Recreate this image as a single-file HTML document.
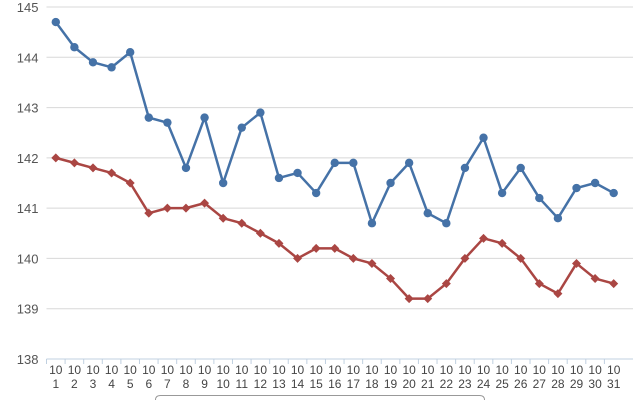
<!DOCTYPE html>
<html><head><meta charset="utf-8"><style>
body{margin:0;background:#fff;width:640px;height:400px;overflow:hidden}
svg{display:block;font-family:"Liberation Sans",sans-serif}
</style></head><body>
<svg id="chart" width="640" height="400"></svg>
<script>
const categories=["1","2","3","4","5","6","7","8","9","10","11","12","13","14","15","16","17","18","19","20","21","22","23","24","25","26","27","28","29","30","31"];
const seriesBlue=[144.7,144.2,143.9,143.8,144.1,142.8,142.7,141.8,142.8,141.5,142.6,142.9,141.6,141.7,141.3,141.9,141.9,140.7,141.5,141.9,140.9,140.7,141.8,142.4,141.3,141.8,141.2,140.8,141.4,141.5,141.3];
const seriesRed=[142.0,141.9,141.8,141.7,141.5,140.9,141.0,141.0,141.1,140.8,140.7,140.5,140.3,140.0,140.2,140.2,140.0,139.9,139.6,139.2,139.2,139.5,140.0,140.4,140.3,140.0,139.5,139.3,139.9,139.6,139.5];
const yTicks=[138,139,140,141,142,143,144,145];
const NS="http://www.w3.org/2000/svg";
const svg=document.getElementById('chart');
const L=46.5,R=623,T=7,B=359,yMin=138,yMax=145;
const bw=(R-L)/categories.length;
const xs=i=>L+bw*(i+0.5);
const ys=v=>B-(v-yMin)/(yMax-yMin)*(B-T);
function mk(tag,attrs,parent){const e=document.createElementNS(NS,tag);for(const k in attrs)e.setAttribute(k,attrs[k]);(parent||svg).appendChild(e);return e;}
yTicks.forEach(t=>{
  const g=mk('line',{x1:L,x2:R+10,y1:ys(t),y2:ys(t),stroke:t===yMin?'#c0d0e0':'#d8d8d8','stroke-width':1});
  
  
  const tx=mk('text',{x:L-8,y:ys(t)+5,'text-anchor':'end','font-size':13,fill:'#555'});
  tx.textContent=t;
  
  
});
categories.forEach((c,i)=>{
  const tk=mk('line',{x1:L+bw*i,x2:L+bw*i,y1:B,y2:B+5,stroke:'#c0d0e0'});
  
  
  const tx=mk('text',{x:xs(i),y:B+15,'text-anchor':'middle','font-size':12,fill:'#444'});
  tx.textContent='10';
  
  
  const tx2=mk('text',{x:xs(i),y:B+29,'text-anchor':'middle','font-size':12,fill:'#444'});
  tx2.textContent=c;
  
  
});
function series(data,color,name,diamond){
  const p=mk('polyline',{points:data.map((v,i)=>xs(i)+','+ys(v)).join(' '),fill:'none',stroke:color,'stroke-width':2.5,'stroke-linejoin':'round'});
  
  
  data.forEach((v,i)=>{
    let m;
    if(diamond){const x=xs(i),y=ys(v);m=mk('polygon',{points:`${x},${y-4.5} ${x+4.5},${y} ${x},${y+4.5} ${x-4.5},${y}`,fill:color});}
    else m=mk('circle',{cx:xs(i),cy:ys(v),r:4.2,fill:color});
    
    
  });
}
series(seriesRed,'#AA4643','series-red',true);
series(seriesBlue,'#4572A7','series-blue',false);
const lg=mk('path',{d:'M155.5,400 L155.5,400 Q155.5,395.5 160.5,395.5 L479.5,395.5 Q484.5,395.5 484.5,400',fill:'#fff',stroke:'#999'});


</script>
</body></html>
